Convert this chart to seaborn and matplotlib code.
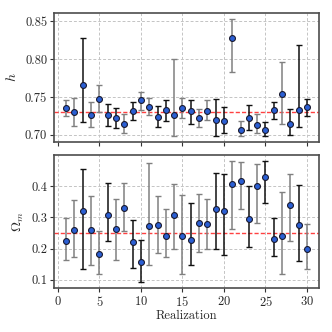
import numpy as np
import pandas as pd
import matplotlib
matplotlib.use("Agg")
import matplotlib.pyplot as plt
import seaborn as sns

# realization index
realization = np.arange(1, 31)

# h estimates with lower / upper bounds of the error bars
h_val = [0.7355, 0.7298, 0.7658, 0.7268, 0.7474, 0.7268, 0.7219, 0.7145, 0.7320, 0.7456,
         0.7364, 0.7241, 0.7325, 0.7259, 0.7351, 0.7320, 0.7228, 0.7320, 0.7197, 0.7184,
         0.8272, 0.7070, 0.7224, 0.7132, 0.7066, 0.7325, 0.7535, 0.7149, 0.7333, 0.7373]
h_lo = [0.7250, 0.7123, 0.7167, 0.7110, 0.7298, 0.7123, 0.7092, 0.7018, 0.7197, 0.7333,
        0.7268, 0.7105, 0.7180, 0.6982, 0.7224, 0.7145, 0.7105, 0.7193, 0.6987, 0.7026,
        0.7833, 0.6987, 0.7066, 0.7031, 0.6991, 0.7210, 0.7149, 0.7004, 0.7105, 0.7254]
h_hi = [0.7460, 0.7487, 0.8280, 0.7439, 0.7654, 0.7404, 0.7351, 0.7276, 0.7439, 0.7561,
        0.7491, 0.7377, 0.7456, 0.8004, 0.7482, 0.7460, 0.7346, 0.7456, 0.7474, 0.7373,
        0.8530, 0.7189, 0.7390, 0.7276, 0.7175, 0.7434, 0.7956, 0.7342, 0.8189, 0.7478]
h_true = 0.73

# Omega_m estimates with lower / upper bounds
om_val = [0.2248, 0.2587, 0.3211, 0.2609, 0.1831, 0.3091, 0.2642, 0.3299, 0.2204, 0.1569,
          0.2719, 0.2751, 0.2401, 0.3080, 0.2390, 0.2291, 0.2806, 0.2795, 0.3277, 0.3189,
          0.4055, 0.4164, 0.2949, 0.3989, 0.4296, 0.2324, 0.2412, 0.3398, 0.2762, 0.1996]
om_lo = [0.1623, 0.1733, 0.1360, 0.1492, 0.1174, 0.2248, 0.1645, 0.2565, 0.1371, 0.0934,
         0.1481, 0.1853, 0.1744, 0.1985, 0.1185, 0.1470, 0.1886, 0.1996, 0.1974, 0.1799,
         0.2631, 0.3277, 0.2050, 0.2828, 0.3463, 0.1755, 0.1197, 0.2259, 0.1601, 0.1340]
om_hi = [0.2992, 0.3551, 0.4537, 0.3671, 0.2576, 0.4088, 0.3573, 0.4088, 0.2927, 0.2280,
         0.4734, 0.3671, 0.3277, 0.4077, 0.3704, 0.3452, 0.3748, 0.3595, 0.4405, 0.4383,
         0.4800, 0.4756, 0.4011, 0.4701, 0.4800, 0.2971, 0.3825, 0.4383, 0.4044, 0.2773]
om_true = 0.25

# which error bars are drawn in black (the rest are grey)
h_dark = [0, 0, 1, 0, 0, 1, 1, 0, 1, 0, 0, 1, 1, 0, 0,
          1, 0, 0, 1, 1, 0, 0, 1, 0, 1, 1, 0, 1, 1, 1]
om_dark = [0, 0, 1, 0, 0, 1, 0, 0, 1, 1, 0, 0, 0, 0, 0,
           1, 0, 0, 1, 1, 0, 0, 1, 0, 1, 1, 0, 0, 1, 0]

sns.set_style("ticks")
plt.rcParams["font.family"] = "serif"
plt.rcParams["font.serif"] = ["cmr10"]
plt.rcParams["mathtext.fontset"] = "cm"
plt.rcParams["axes.formatter.use_mathtext"] = True
plt.rcParams["font.size"] = 9

fig = plt.figure(figsize=(3.32, 3.32), dpi=100)
ax1 = fig.add_axes([0.163, 0.572, 0.798, 0.389])
ax2 = fig.add_axes([0.163, 0.1325, 0.798, 0.4005], sharex=ax1)


def draw_panel(ax, val, lo, hi, dark, truth, ylabel):
    df = pd.DataFrame({"r": realization, "v": val, "lo": lo, "hi": hi, "dark": dark})
    for _, row in df.iterrows():
        c = "#111111" if row["dark"] else "#808080"
        ax.errorbar(row["r"], row["v"],
                    yerr=[[row["v"] - row["lo"]], [row["hi"] - row["v"]]],
                    fmt="none", ecolor=c, elinewidth=1.1, capsize=2.5,
                    capthick=1.0, zorder=2)
    sns.scatterplot(data=df, x="r", y="v", ax=ax, color="#2b5fd4",
                    edgecolor="#1a1a2e", linewidth=0.8, s=18, zorder=3,
                    legend=False)
    ax.axhline(truth, color="#ff2020", ls=(0, (3, 1.5)), lw=1.0, alpha=0.85, zorder=1)
    ax.grid(True, ls=(0, (3, 2)), color="#c4c4c4", lw=0.7)
    ax.set_axisbelow(True)
    ax.set_ylabel(ylabel, fontsize=10)
    for s in ax.spines.values():
        s.set_color("#4d4d4d")
        s.set_linewidth(1.2)
    ax.tick_params(length=3, width=0.8, color="#333333", labelsize=9, pad=2)


draw_panel(ax1, h_val, h_lo, h_hi, h_dark, h_true, "$h$")
draw_panel(ax2, om_val, om_lo, om_hi, om_dark, om_true, r"$\Omega_m$")

ax1.set_yticks([0.70, 0.75, 0.80, 0.85])
ax1.set_yticklabels(["0.70", "0.75", "0.80", "0.85"])
ax2.set_yticks([0.1, 0.2, 0.3, 0.4])
ax2.set_yticklabels(["0.1", "0.2", "0.3", "0.4"])
ax1.set_xticks([0, 5, 10, 15, 20, 25, 30])
ax1.tick_params(labelbottom=False)
ax1.set_xlabel("")
ax2.set_xlabel("Realization", fontsize=9, labelpad=1)

fig.savefig("out.png", dpi=100)
